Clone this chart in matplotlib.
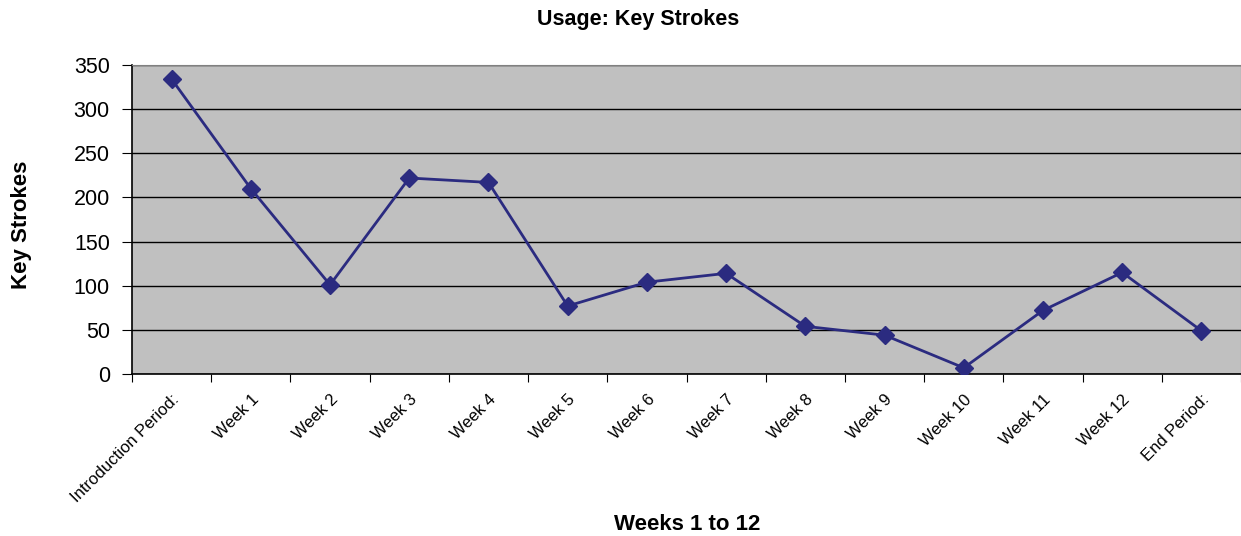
import matplotlib
matplotlib.use('Agg')
import matplotlib.pyplot as plt
import numpy as np

plt.rcParams['font.family'] = ['Liberation Sans', 'DejaVu Sans']

categories = ['Introduction Period:', 'Week 1', 'Week 2', 'Week 3', 'Week 4',
              'Week 5', 'Week 6', 'Week 7', 'Week 8', 'Week 9', 'Week 10',
              'Week 11', 'Week 12', 'End Period:']
key_strokes = [334, 210, 101, 222, 217, 77, 104, 114, 54, 44, 7, 72, 115, 49]
y_ticks = [0, 50, 100, 150, 200, 250, 300, 350]

fig = plt.figure(figsize=(12.41, 5.36), dpi=100)
ax = fig.add_axes([132 / 1241, 162 / 536, 1109 / 1241, 309 / 536])
ax.set_facecolor('#C0C0C0')

x = np.arange(len(categories))
ax.plot(x, key_strokes, color='#2B2B80', lw=2, marker='D', ms=9,
        mfc='#2B2B80', mec='#2B2B80', zorder=3)

ax.set_xlim(-0.5, len(categories) - 0.5)
ax.set_ylim(0, 350)
ax.set_yticks(y_ticks)
ax.yaxis.grid(True, color='black', lw=1)
ax.set_axisbelow(True)

# ticks between categories, labels at centres
ax.set_xticks(np.arange(len(categories) + 1) - 0.5)
ax.set_xticklabels([])
ax.set_xticks(x, minor=True)
ax.set_xticklabels(categories, minor=True, rotation=45, ha='right',
                   rotation_mode='anchor', fontsize=12)
ax.tick_params(axis='x', which='minor', length=0, pad=13)
ax.tick_params(axis='x', which='major', length=6, direction='out')
ax.tick_params(axis='y', length=7, direction='out', labelsize=15.5, pad=9)

for s in ['top', 'right']:
    ax.spines[s].set_color('#808080')
for s in ['left', 'bottom']:
    ax.spines[s].set_color('black')
    ax.spines[s].set_linewidth(1.2)

fig.text(22 / 1241, 1 - 225 / 536, 'Key Strokes', fontsize=16,
         fontweight='bold', rotation=90, ha='center', va='center')
fig.text(687 / 1241, 1 - 524 / 536, 'Weeks 1 to 12', fontsize=16,
         fontweight='bold', ha='center', va='center')
fig.text(638 / 1241, 1 - 20 / 536, 'Usage: Key Strokes', fontsize=15.5,
         fontweight='bold', ha='center', va='center')

fig.savefig('out.png', dpi=100)
